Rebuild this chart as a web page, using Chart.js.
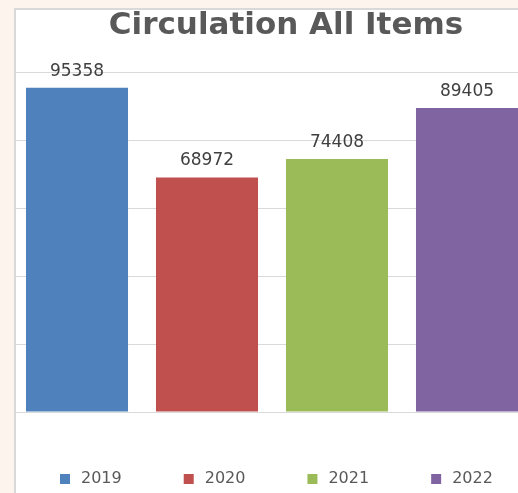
<!DOCTYPE html>
<html>
<head>
<meta charset="utf-8">
<script src="https://cdn.jsdelivr.net/npm/chart.js@4/dist/chart.umd.min.js"></script>
<style>
  html, body { margin: 0; padding: 0; overflow: hidden; background: #fdf4ee; }
  #frame {
    position: absolute; left: 14px; top: 8px; width: 520px; height: 500px;
    border-left: 2px solid #d9d9d9; border-top: 2px solid #d9d9d9;
    background: #ffffff; overflow: hidden;
  }
  #chart { position: absolute; left: -18px; top: 0; }
</style>
</head>
<body>
<div id="frame"><canvas id="chart" width="576" height="487"></canvas></div>
<script>
// chart data
var YEARS = ["2019", "2020", "2021", "2022"];
var CIRCULATION = [95358, 68972, 74408, 89405];
var BAR_COLORS = ["#4f81bd", "#c0504d", "#9bbb59", "#8064a2"];
var Y_TICK_STEP = 20000;
var Y_MAX = 100000;

var FONT = "'DejaVu Sans', sans-serif";

// numbers printed above each bar
var valueLabels = {
  id: "valueLabels",
  afterDatasetsDraw: function (chart) {
    var ctx = chart.ctx;
    var meta = chart.getDatasetMeta(0);
    ctx.save();
    ctx.font = "17px " + FONT;
    ctx.fillStyle = "#404040";
    ctx.textAlign = "center";
    ctx.textBaseline = "alphabetic";
    meta.data.forEach(function (bar, i) {
      ctx.fillText(String(chart.data.datasets[0].data[i]), bar.x, bar.y - 12);
    });
    ctx.restore();
  },
};

new Chart(document.getElementById("chart"), {
  type: "bar",
  data: {
    labels: YEARS,
    datasets: [
      {
        label: "Circulation",
        data: CIRCULATION,
        backgroundColor: BAR_COLORS,
        borderWidth: 0,
        barPercentage: 0.785,
        categoryPercentage: 1,
      },
    ],
  },
  options: {
    responsive: false,
    animation: false,
    devicePixelRatio: 1,
    layout: { padding: 0 },
    plugins: {
      title: {
        display: true,
        text: "Circulation All Items",
        color: "#595959",
        font: { family: FONT, size: 31, weight: "bold", lineHeight: 1 },
        padding: { top: 0, bottom: 31 },
      },
      legend: {
        display: true,
        position: "bottom",
        align: "start",
        labels: {
          usePointStyle: true,
          pointStyle: "rect",
          boxWidth: 16,
          boxHeight: 10,
          padding: 59,
          color: "#595959",
          font: { family: FONT, size: 16 },
          generateLabels: function (chart) {
            return chart.data.labels.map(function (lbl, i) {
              return {
                text: lbl,
                fillStyle: BAR_COLORS[i],
                strokeStyle: BAR_COLORS[i],
                lineWidth: 0,
                pointStyle: "rect",
                fontColor: "#595959",
                index: i,
              };
            });
          },
        },
      },
      tooltip: { enabled: false },
    },
    scales: {
      x: {
        display: false,
        grid: { display: false },
      },
      y: {
        position: "left",
        min: 0,
        max: Y_MAX,
        ticks: { display: false, stepSize: Y_TICK_STEP },
        grid: { color: "#d9d9d9", lineWidth: 1, drawTicks: false },
        border: { display: false },
        afterFit: function (axis) { axis.width = 14; },
      },
      // empty right-hand axis, only reserves room so the title sits where it does
      yRight: {
        position: "right",
        display: true,
        min: 0,
        max: Y_MAX,
        ticks: { display: false },
        grid: { display: false, drawTicks: false },
        border: { display: false },
        afterFit: function (axis) { axis.width = 42; },
      },
    },
  },
  plugins: [valueLabels],
});
</script>
</body>
</html>
